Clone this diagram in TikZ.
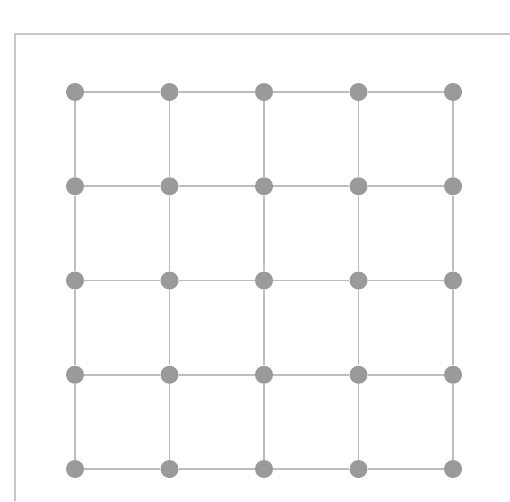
\documentclass[tikz,border=0pt]{standalone}
\usepackage{tikz}
\usetikzlibrary{positioning}
\definecolor{dotgray}{HTML}{9A9A9A}
\definecolor{linegray}{HTML}{BDBDBD}
\definecolor{framegray}{HTML}{C8C8C8}

\begin{document}
\begin{tikzpicture}[x=0.02cm, y=-0.02cm,
      dot/.style={circle, fill=dotgray, inner sep=0pt, minimum size=0.36cm},
      link/.style={draw=linegray, line width=0.9pt},
      frame/.style={draw=framegray, line width=1.5pt},
    ]
    \useasboundingbox (0,0) rectangle (510,501);

    %% --- outer frame ---
    \draw[frame] (15,501) -- (15,34) -- (510,34);

    %% --- dots ---
    \foreach \i in {0,...,4} {
      \foreach \j in {0,...,4} {
        \node[dot] (d-\i-\j) at ({75+94.5*\i}, {92+94.25*\j}) {};
      }
    }

    %% --- links between neighbours ---
    \foreach \i in {0,...,4} {
      \foreach \j [count=\k] in {0,...,3} {
        \draw[link] (d-\i-\j) -- (d-\i-\k);
        \draw[link] (d-\j-\i) -- (d-\k-\i);
      }
    }
  \end{tikzpicture}
\end{document}
